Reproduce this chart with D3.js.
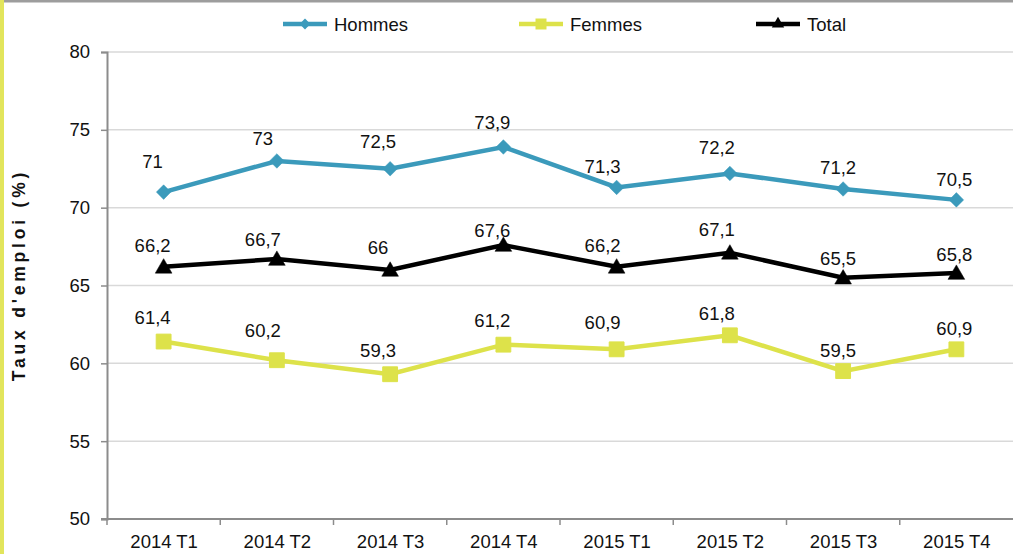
<!DOCTYPE html>
<html>
<head>
<meta charset="utf-8">
<script src="https://cdn.jsdelivr.net/npm/d3@7"></script>
<style>
  body { margin: 0; background: #fff; }
  svg text { font-family: "Liberation Sans", Arial, sans-serif; fill: #111; }
</style>
</head>
<body>
<div id="chart"></div>
<script>
// trimestres
var categories = ['2014 T1', '2014 T2', '2014 T3', '2014 T4', '2015 T1', '2015 T2', '2015 T3', '2015 T4'];
var hommes = [71, 73, 72.5, 73.9, 71.3, 72.2, 71.2, 70.5];
var femmes = [61.4, 60.2, 59.3, 61.2, 60.9, 61.8, 59.5, 60.9];
var total = [66.2, 66.7, 66, 67.6, 66.2, 67.1, 65.5, 65.8];
var yTicks = [50, 55, 60, 65, 70, 75, 80];

// decalage des etiquettes (comme dans l'original)
var labelShiftX = [-11, -14, -12, -11, -14, -13, -5, -2];
var liftHommes = [31, 23, 27, 25, 21, 26, 22, 21];
var liftFemmes = [24, 30, 24, 24, 27, 22, 21, 21];
var liftTotal = [22, 20, 23, 15, 22, 24, 19, 19];

var width = 1013, height = 554;
var margin = {top: 52, right: 0, bottom: 35, left: 107};
var fs = 18.5;

var svg = d3.select('#chart').append('svg')
    .attr('width', width)
    .attr('height', height);

// bordures
svg.append('rect').attr('x', 0).attr('y', 0).attr('width', 4).attr('height', height).attr('fill', '#e2e55c');
svg.append('rect').attr('x', 4).attr('y', 0).attr('width', width - 4).attr('height', 2.5).attr('fill', '#9d9d9d');

var x = d3.scalePoint().domain(categories).range([margin.left, width - margin.right]).padding(0.5);
var band = d3.scaleBand().domain(categories).range([margin.left, width - margin.right]);
var y = d3.scaleLinear().domain([50, 80]).range([height - margin.bottom, margin.top]);

// grille
svg.append('g').selectAll('line')
    .data(yTicks.filter(function(d) { return d > 50; }))
    .enter().append('line')
        .attr('x1', margin.left).attr('x2', width)
        .attr('y1', function(d) { return y(d); })
        .attr('y2', function(d) { return y(d); })
        .attr('stroke', '#d9d9d9')
        .attr('stroke-width', 1.5);

// axe Y
var yAxis = svg.append('g')
    .attr('transform', 'translate(' + margin.left + ',0)')
    .call(d3.axisLeft(y).tickValues(yTicks).tickSize(6).tickPadding(11).tickFormat(d3.format('d')));
yAxis.select('.domain').attr('stroke', '#8c8c8c').attr('stroke-width', 2);
yAxis.selectAll('.tick line').attr('stroke', '#8c8c8c').attr('stroke-width', 1.5);
yAxis.selectAll('.tick text').attr('font-size', fs).attr('fill', '#111')
    .style('font-family', '"Liberation Sans", Arial, sans-serif');

// axe X
var xAxis = svg.append('g')
    .attr('transform', 'translate(0,' + y(50) + ')')
    .call(d3.axisBottom(x).tickSize(0).tickPadding(16));
xAxis.select('.domain').remove();
xAxis.selectAll('.tick text').attr('font-size', fs).attr('fill', '#111')
    .style('font-family', '"Liberation Sans", Arial, sans-serif');
svg.append('line')
    .attr('x1', margin.left - 6).attr('x2', width)
    .attr('y1', y(50)).attr('y2', y(50))
    .attr('stroke', '#8c8c8c').attr('stroke-width', 2);
svg.append('g').selectAll('line')
    .data(categories)
    .enter().append('line')
        .attr('x1', function(d) { return band(d); })
        .attr('x2', function(d) { return band(d); })
        .attr('y1', y(50)).attr('y2', y(50) + 6)
        .attr('stroke', '#8c8c8c').attr('stroke-width', 1.5);

// titre axe Y
svg.append('text')
    .attr('transform', 'translate(25,275) rotate(-90)')
    .attr('text-anchor', 'middle')
    .attr('font-size', 17.5)
    .attr('font-weight', 'bold')
    .attr('letter-spacing', 3.8)
    .text("Taux d'emploi (%)");

var series = [
    {name: 'Hommes', values: hommes, color: '#3b9abb', symbol: d3.symbolDiamond2, size: 135, lift: liftHommes},
    {name: 'Femmes', values: femmes, color: '#dde24a', symbol: d3.symbolSquare2, size: 280, lift: liftFemmes},
    {name: 'Total', values: total, color: '#000000', symbol: d3.symbolTriangle2, size: 200, lift: liftTotal}
];

var line = d3.line()
    .x(function(d, i) { return x(categories[i]); })
    .y(function(d) { return y(d); });

series.forEach(function(s) {
    var g = svg.append('g');
    g.append('path')
        .attr('d', line(s.values))
        .attr('fill', 'none')
        .attr('stroke', s.color)
        .attr('stroke-width', 4.5);
    g.selectAll('path.pt')
        .data(s.values)
        .enter().append('path')
            .attr('class', 'pt')
            .attr('d', d3.symbol().type(s.symbol).size(s.size))
            .attr('transform', function(d, i) {
                var dy = s.name === 'Total' ? 1.5 : 0;
                return 'translate(' + x(categories[i]) + ',' + (y(d) + dy) + ')';
            })
            .attr('fill', s.color)
            .attr('stroke', s.color)
            .attr('stroke-width', s.name === 'Femmes' ? 1 : 0.5)
            .attr('stroke-linejoin', 'round');
    g.selectAll('text')
        .data(s.values)
        .enter().append('text')
            .attr('x', function(d, i) { return x(categories[i]) + labelShiftX[i]; })
            .attr('y', function(d, i) { return y(d) - s.lift[i] + 6.7; })
            .attr('text-anchor', 'middle')
            .attr('font-size', fs)
            .text(function(d) { return String(d).replace('.', ','); });
});

// legende
var legendX = [283, 519, 756];
var legend = svg.append('g').selectAll('g')
    .data(series)
    .enter().append('g')
        .attr('transform', function(d, i) { return 'translate(' + legendX[i] + ',24)'; });
legend.append('line')
    .attr('x1', 0).attr('x2', 44)
    .attr('stroke', function(d) { return d.color; })
    .attr('stroke-width', 4.5);
legend.append('path')
    .attr('transform', 'translate(22,0)')
    .attr('d', function(d) { return d3.symbol().type(d.symbol).size(d.size * 0.55)(); })
    .attr('fill', function(d) { return d.color; });
legend.append('text')
    .attr('x', 51)
    .attr('y', 6.5)
    .attr('font-size', fs)
    .text(function(d) { return d.name; });
</script>
</body>
</html>
